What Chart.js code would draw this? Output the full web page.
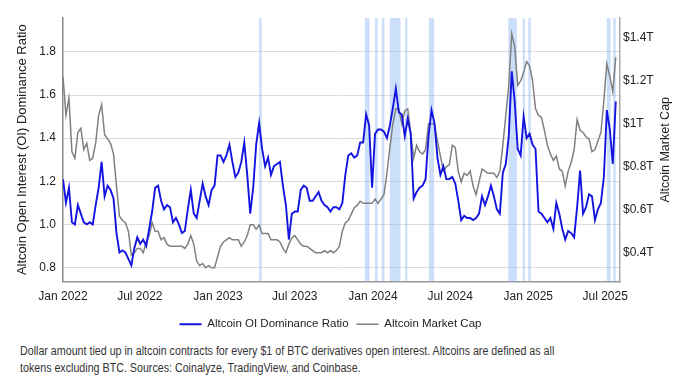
<!DOCTYPE html>
<html>
<head>
<meta charset="utf-8">
<script src="https://cdn.jsdelivr.net/npm/chart.js@4.4.1/dist/chart.umd.min.js"></script>
<style>
  html, body { margin: 0; padding: 0; background: #fff; }
  #wrap { position: relative; width: 685px; height: 384px; }
  #chart { position: absolute; left: 0; top: 0; }
  #caption {
    position: absolute; left: 20px; top: 343px;
    font: 12px "Liberation Sans", Arial, sans-serif;
    line-height: 17px; color: #333; white-space: nowrap;
    transform: scaleX(0.89); transform-origin: left top;
  }
</style>
</head>
<body>
<div id="wrap">
  <canvas id="chart" width="685" height="337"></canvas>
  <div id="caption">Dollar amount tied up in altcoin contracts for every $1 of BTC derivatives open interest. Altcoins are defined as all<br>tokens excluding BTC. Sources: Coinalyze, TradingView, and Coinbase.</div>
</div>
<script>
// weekly samples, day 0 = 1 Jan 2022
const stepDays = 7;

// Altcoin OI dominance ratio (left axis)
const oiRatio = [
  1.21, 1.10, 1.17, 1.01, 1.00, 1.09, 1.05, 1.01, 1.00, 1.01,
  1.00, 1.09, 1.17, 1.29, 1.13, 1.18, 1.16, 1.12, 0.96, 0.87,
  0.88, 0.87, 0.84, 0.81, 0.89, 0.94, 0.91, 0.93, 0.90, 0.98,
  1.06, 1.17, 1.18, 1.11, 1.07, 1.09, 1.08, 1.01, 1.03, 1.00,
  0.96, 0.97, 1.07, 1.16, 1.05, 1.03, 1.11, 1.19, 1.13, 1.09,
  1.16, 1.18, 1.32, 1.32, 1.29, 1.32, 1.37, 1.29, 1.22, 1.24,
  1.29, 1.38, 1.23, 1.05, 1.17, 1.37, 1.47, 1.35, 1.27, 1.31,
  1.23, 1.27, 1.28, 1.29, 1.18, 1.09, 0.93, 1.05, 1.06, 1.06,
  1.16, 1.18, 1.17, 1.11, 1.11, 1.13, 1.15, 1.11, 1.09, 1.08,
  1.06, 1.08, 1.08, 1.07, 1.10, 1.23, 1.32, 1.33, 1.31, 1.32,
  1.38, 1.38, 1.51, 1.46, 1.17, 1.42, 1.44, 1.44, 1.43, 1.40,
  1.46, 1.54, 1.63, 1.52, 1.51, 1.41, 1.49, 1.42, 1.12, 1.15,
  1.17, 1.18, 1.21, 1.41, 1.53, 1.47, 1.31, 1.23, 1.27, 1.21,
  1.21, 1.22, 1.19, 1.11, 1.02, 1.04, 1.03, 1.03, 1.02, 1.03,
  1.05, 1.13, 1.09, 1.13, 1.18, 1.13, 1.07, 1.05, 1.24, 1.28,
  1.41, 1.71, 1.57, 1.35, 1.32, 1.50, 1.40, 1.42, 1.37, 1.35,
  1.06, 1.05, 1.03, 1.01, 1.03, 0.98, 1.10, 1.05, 0.98, 0.93,
  0.97, 0.96, 0.94, 1.08, 1.25, 1.05, 1.08, 1.14, 1.13, 1.02,
  1.07, 1.10, 1.22, 1.53, 1.44, 1.28, 1.57
];

// Altcoin market cap in $T (right axis)
const marketCap = [
  1.22, 1.04, 1.12, 0.87, 0.84, 0.96, 0.98, 0.88, 0.91, 0.83,
  0.84, 0.91, 1.04, 1.09, 0.95, 0.93, 0.91, 0.86, 0.71, 0.57,
  0.55, 0.54, 0.50, 0.39, 0.40, 0.42, 0.42, 0.40, 0.45, 0.48,
  0.54, 0.50, 0.50, 0.46, 0.47, 0.44, 0.43, 0.43, 0.43, 0.43,
  0.43, 0.42, 0.44, 0.48, 0.44, 0.36, 0.34, 0.35, 0.33, 0.34,
  0.33, 0.33, 0.38, 0.43, 0.45, 0.46, 0.47, 0.46, 0.46, 0.46,
  0.43, 0.45, 0.48, 0.53, 0.53, 0.51, 0.53, 0.49, 0.49, 0.49,
  0.46, 0.46, 0.46, 0.45, 0.42, 0.40, 0.44, 0.47, 0.48, 0.46,
  0.44, 0.43, 0.43, 0.42, 0.41, 0.40, 0.40, 0.40, 0.41, 0.40,
  0.41, 0.40, 0.41, 0.43, 0.50, 0.54, 0.55, 0.58, 0.61, 0.62,
  0.64, 0.63, 0.63, 0.63, 0.63, 0.65, 0.63, 0.65, 0.67, 0.77,
  0.89, 1.00, 1.07, 1.07, 1.00, 1.06, 1.07, 0.96, 0.84, 0.90,
  0.87, 0.86, 0.88, 1.00, 1.00, 1.00, 0.92, 0.85, 0.78, 0.80,
  0.81, 0.90, 0.89, 0.78, 0.73, 0.77, 0.76, 0.78, 0.71, 0.67,
  0.73, 0.79, 0.78, 0.77, 0.77, 0.77, 0.75, 0.78, 0.90, 1.04,
  1.18, 1.42, 1.36, 1.18, 1.20, 1.24, 1.29, 1.27, 1.20, 1.07,
  1.04, 1.03, 0.97, 0.90, 0.86, 0.83, 0.85, 0.79, 0.78, 0.71,
  0.78, 0.82, 0.88, 1.02, 0.97, 0.96, 0.94, 0.93, 0.87, 0.88,
  0.92, 0.96, 1.11, 1.28, 1.22, 1.15, 1.31
];

// x axis ticks (days since 1 Jan 2022)
const xTickDays = [0, 181, 365, 546, 730, 912, 1096, 1277];
const xTickLabels = ['Jan 2022', 'Jul 2022', 'Jan 2023', 'Jul 2023', 'Jan 2024', 'Jul 2024', 'Jan 2025', 'Jul 2025'];
const leftTicks = [0.8, 1.0, 1.2, 1.4, 1.6, 1.8];
const rightTicks = [0.4, 0.6, 0.8, 1.0, 1.2, 1.4];

// shaded periods (days since 1 Jan 2022)
const bandStart = [462, 711, 735, 751, 770, 806, 862, 1049, 1083, 1096, 1281, 1296];
const bandEnd   = [468, 722, 741, 757, 795, 811, 874, 1069, 1088, 1102, 1290, 1302];

const rightTitle = 'Altcoin Market Cap';
const fontFamily = '"Liberation Sans", Arial, sans-serif';

const toPoints = (arr) => arr.map((v, i) => ({ x: i * stepDays, y: v }));

// light blue vertical bands behind the lines
const bandsPlugin = {
  id: 'bands',
  beforeDatasetsDraw(chart) {
    const { ctx, chartArea, scales } = chart;
    ctx.save();
    ctx.fillStyle = 'rgba(140, 185, 245, 0.45)';
    bandStart.forEach((s, i) => {
      const x0 = scales.x.getPixelForValue(s);
      const x1 = scales.x.getPixelForValue(bandEnd[i]);
      ctx.fillRect(x0, chartArea.top, Math.max(x1 - x0, 1.5), chartArea.bottom - chartArea.top);
    });
    ctx.restore();
  }
};

// right axis title, reading bottom to top like the left one
const rightTitlePlugin = {
  id: 'rightTitle',
  afterDraw(chart) {
    const { ctx, chartArea, scales } = chart;
    ctx.save();
    ctx.translate(scales.y1.right - 19, (chartArea.top + chartArea.bottom) / 2);
    ctx.rotate(-Math.PI / 2);
    ctx.textAlign = 'center';
    ctx.textBaseline = 'middle';
    ctx.font = '12.5px ' + fontFamily;
    ctx.fillStyle = '#222';
    ctx.fillText(rightTitle, 0, 0);
    ctx.restore();
  }
};

// nudge the legend a little left and down
const legendShiftPlugin = {
  id: 'legendShift',
  afterLayout(chart) {
    const lg = chart.legend;
    if (!lg) return;
    lg.left -= 12;
    lg.right -= 12;
    lg.top += 3;
    lg.bottom += 3;
  }
};

Chart.defaults.font.family = fontFamily;
Chart.defaults.color = '#222';

new Chart(document.getElementById('chart'), {
  type: 'line',
  data: {
    datasets: [
      {
        label: 'Altcoin OI Dominance Ratio',
        data: toPoints(oiRatio),
        borderColor: 'rgb(20, 20, 225)',
        borderWidth: 1.9,
        pointRadius: 0,
        tension: 0,
        yAxisID: 'y'
      },
      {
        label: 'Altcoin Market Cap',
        data: toPoints(marketCap),
        borderColor: 'rgb(128, 128, 128)',
        borderWidth: 1.5,
        pointRadius: 0,
        tension: 0,
        yAxisID: 'y1'
      }
    ]
  },
  options: {
    responsive: false,
    animation: false,
    layout: { padding: { top: 18 } },
    scales: {
      x: {
        type: 'linear',
        min: 0,
        max: 1312,
        afterBuildTicks: (axis) => { axis.ticks = xTickDays.map(v => ({ value: v })); },
        afterFit: (axis) => { axis.height = 26; },
        ticks: {
          callback: (v) => xTickLabels[xTickDays.indexOf(v)],
          font: { size: 12 },
          padding: 8,
          maxRotation: 0
        },
        grid: { display: false, drawTicks: false },
        border: { display: true, color: '#999', width: 1.5 }
      },
      y: {
        position: 'left',
        min: 0.7355,
        max: 1.957,
        afterBuildTicks: (axis) => { axis.ticks = leftTicks.map(v => ({ value: v })); },
        afterFit: (axis) => { axis.width = 63; },
        ticks: {
          callback: (v) => v.toFixed(1),
          font: { size: 12 },
          padding: 7
        },
        grid: { color: '#dcdcdc', drawTicks: false },
        border: { display: true, color: '#888', width: 1.5 },
        title: {
          display: true,
          text: 'Altcoin Open Interest (OI) Dominance Ratio',
          font: { size: 13 },
          color: '#222',
          padding: { top: 15, bottom: 0 }
        }
      },
      y1: {
        position: 'right',
        min: 0.266,
        max: 1.493,
        afterBuildTicks: (axis) => { axis.ticks = rightTicks.map(v => ({ value: v })); },
        afterFit: (axis) => { axis.width = 65; },
        ticks: {
          callback: (v) => '$' + (v === 1 ? '1' : v.toFixed(1)) + 'T',
          font: { size: 12 },
          padding: 3
        },
        grid: { display: false, drawTicks: false },
        border: { display: true, color: '#aaa', width: 1.5 }
      }
    },
    plugins: {
      legend: {
        position: 'bottom',
        labels: {
          usePointStyle: true,
          pointStyle: 'line',
          pointStyleWidth: 22,
          boxHeight: 12,
          padding: 8,
          font: { size: 11.5 },
          color: '#222'
        }
      },
      tooltip: { enabled: false }
    }
  },
  plugins: [bandsPlugin, rightTitlePlugin, legendShiftPlugin]
});
</script>
</body>
</html>
